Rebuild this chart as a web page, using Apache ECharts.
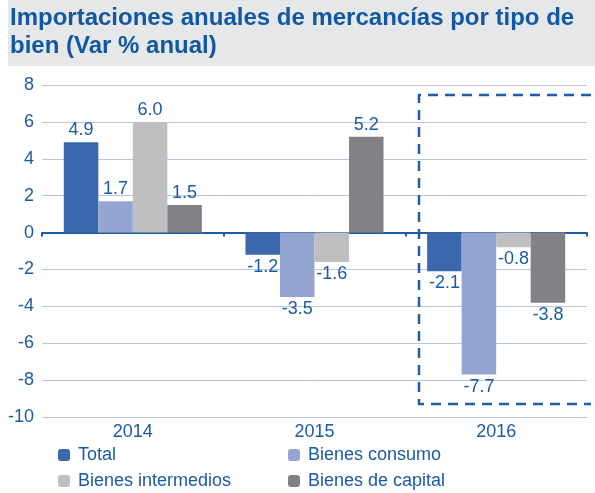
<!DOCTYPE html>
<html>
<head>
<meta charset="utf-8">
<script src="https://cdn.jsdelivr.net/npm/echarts@6/dist/echarts.min.js"></script>
<style>
  html, body { margin: 0; padding: 0; background: #fff; }
  #main { width: 595px; height: 493px; }
</style>
</head>
<body>
<div id="main"></div>
<script>
// datos
var years = ['2014', '2015', '2016'];
var total = [4.9, -1.2, -2.1];
var consumo = [1.7, -3.5, -7.7];
var intermedios = [6.0, -1.6, -0.8];
var capital = [1.5, 5.2, -3.8];

var azul = '#1a5ba3';
var fuente = '"Liberation Sans", Arial, sans-serif';
var tam = 18;

var chart = echarts.init(document.getElementById('main'));

function serie(nombre, datos, color) {
    return {
        name: nombre,
        type: 'bar',
        xAxisIndex: 0,
        barGap: '0%',
        barCategoryGap: '24%',
        itemStyle: { color: color },
        label: {
            show: true,
            color: azul,
            fontSize: tam,
            fontFamily: fuente,
            distance: 3,
            formatter: function (p) { return Number(p.value).toFixed(1); }
        },
        // etiquetas negativas debajo de la barra
        data: datos.map(function (v) {
            return { value: v, label: { position: v < 0 ? 'bottom' : 'top' } };
        })
    };
}

function leyenda(nombre, x, y) {
    return {
        data: [nombre],
        left: x, top: y,
        itemWidth: 12, itemHeight: 12, itemGap: 0,
        textStyle: { color: azul, fontSize: tam, fontFamily: fuente, padding: [0, 0, 0, 3] }
    };
}

var option = {
    backgroundColor: '#fff',
    textStyle: { fontFamily: fuente },
    graphic: [
        {
            type: 'rect',
            shape: { x: 8, y: 0, width: 587, height: 66 },
            style: { fill: '#e6e7e8' },
            z: -1
        },
        {
            type: 'text',
            left: 10, top: 4,
            style: {
                text: 'Importaciones anuales de mercancías por tipo de\nbien (Var % anual)',
                font: 'bold 24px "Liberation Sans", Arial, sans-serif',
                fill: '#1158a2',
                lineHeight: 28
            }
        },
        {
            type: 'polyline',
            shape: { points: [[591, 95], [419, 95], [419, 404], [591, 404]] },
            style: { stroke: '#1f5ea6', lineWidth: 2.5, lineDash: [10, 7], fill: null },
            z: 10
        }
    ],
    legend: [
        leyenda('Total', 53, 441),
        leyenda('Bienes consumo', 283, 441),
        leyenda('Bienes intermedios', 53, 467),
        leyenda('Bienes de capital', 283, 467)
    ],
    grid: { left: 42, right: 8, top: 85, bottom: 76 },
    xAxis: [
        {
            type: 'category',
            data: years,
            position: 'bottom',
            axisLine: { show: false, onZero: false },
            axisTick: { show: false },
            axisLabel: { color: azul, fontSize: tam, fontFamily: fuente, margin: 6 }
        },
        {
            type: 'category',
            data: years,
            position: 'bottom',
            axisLine: { show: true, onZero: true, lineStyle: { color: '#1f5ea6', width: 2 } },
            axisTick: { show: true, inside: false, length: 4, lineStyle: { color: '#1f5ea6', width: 2 } },
            axisLabel: { show: false }
        }
    ],
    yAxis: {
        type: 'value',
        min: -10,
        max: 8,
        interval: 2,
        axisLine: { show: false },
        axisTick: { show: false },
        axisLabel: { color: azul, fontSize: tam, fontFamily: fuente, margin: 8 },
        splitLine: { lineStyle: { color: '#b8c5e2', width: 1 } }
    },
    series: [
        serie('Total', total, '#3a67ad'),
        serie('Bienes consumo', consumo, '#95a5d1'),
        serie('Bienes intermedios', intermedios, '#bebfc1'),
        serie('Bienes de capital', capital, '#808285')
    ]
};

chart.setOption(option);
</script>
</body>
</html>
